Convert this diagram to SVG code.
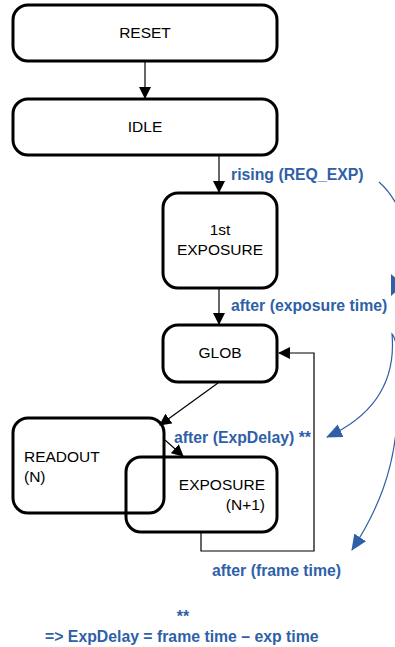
<svg xmlns="http://www.w3.org/2000/svg" width="395" height="647" viewBox="0 0 395 647">
<style>
.node{fill:#fff;stroke:#000;stroke-width:3}
.open{fill:none}
.t{font-family:"Liberation Sans",Arial,sans-serif;font-size:15.5px;fill:#000}
.lbl{font-family:"Liberation Sans",Arial,sans-serif;font-size:15.8px;font-weight:bold;fill:#2f5fa8}
.c{fill:none;stroke:#000;stroke-width:1.2}
.b{fill:none;stroke:#2f5fa8;stroke-width:1.2}
</style>
<defs>
<marker id="ah" markerUnits="userSpaceOnUse" markerWidth="12" markerHeight="12" viewBox="0 0 12 12" refX="11" refY="6" orient="auto">
<path d="M0,0 L12,6 L0,12 Z" fill="#000"/>
</marker>
<marker id="bh" markerUnits="userSpaceOnUse" markerWidth="16" markerHeight="14" viewBox="0 0 16 14" refX="15" refY="7" orient="auto">
<path d="M0,0 L16,7 L0,14 Z" fill="#2f5fa8"/>
</marker>
</defs>
<g id="connectors">
<line class="c" x1="145" y1="62" x2="145" y2="98" marker-end="url(#ah)"/>
<line class="c" x1="219" y1="156" x2="219" y2="192" marker-end="url(#ah)"/>
<line class="c" x1="219" y1="289" x2="219" y2="324" marker-end="url(#ah)"/>
<line class="c" x1="218" y1="383" x2="160" y2="425" marker-end="url(#ah)"/>
<line class="c" x1="165" y1="440" x2="183" y2="456" marker-end="url(#ah)"/>
<polyline class="c" points="201,533 201,551 314,551 314,353 279,353" marker-end="url(#ah)"/>
<path class="b" d="M379,182 C388,190 395,200 400,212"/>
<polygon points="391,274 391,296 404,285" fill="#2f5fa8"/>
<path class="b" d="M398,352 C396,342 394,336 392,334 C396,380 375,415 327,437" marker-end="url(#bh)"/>
<path class="b" d="M397,420 C394,470 378,510 352,550" marker-end="url(#bh)"/>
</g>
<g id="reset"><rect class="node" x="13" y="5" width="264" height="56" rx="15"/><text class="t" x="145" y="38" text-anchor="middle">RESET</text></g>
<g id="idle"><rect class="node" x="13" y="99" width="264" height="56" rx="15"/><text class="t" x="145" y="132" text-anchor="middle">IDLE</text></g>
<g id="exposure1"><rect class="node" x="163" y="193" width="114" height="95" rx="15"/><text class="t" x="220" y="235" text-anchor="middle">1st</text><text class="t" x="220" y="255" text-anchor="middle">EXPOSURE</text></g>
<g id="glob"><rect class="node" x="163" y="325" width="114" height="57" rx="15"/><text class="t" x="220" y="358" text-anchor="middle">GLOB</text></g>
<g id="readout"><rect class="node open" x="13" y="418" width="151" height="95" rx="15"/><text class="t" x="24" y="462">READOUT</text><text class="t" x="24" y="482">(N)</text></g>
<g id="exposureN"><rect class="node open" x="126" y="457" width="151" height="75" rx="15"/><text class="t" x="265" y="490" text-anchor="end">EXPOSURE</text><text class="t" x="265" y="510" text-anchor="end">(N+1)</text></g>
<g id="labels">
<text class="lbl" x="231" y="180">rising (REQ_EXP)</text>
<text class="lbl" x="231" y="311">after (exposure time)</text>
<text class="lbl" x="174" y="443">after (ExpDelay) **</text>
<text class="lbl" x="212" y="576">after (frame time)</text>
<text class="lbl" x="183" y="622" text-anchor="middle">**</text>
<text class="lbl" x="45" y="642">=&gt; ExpDelay = frame time – exp time</text>
</g>
</svg>
